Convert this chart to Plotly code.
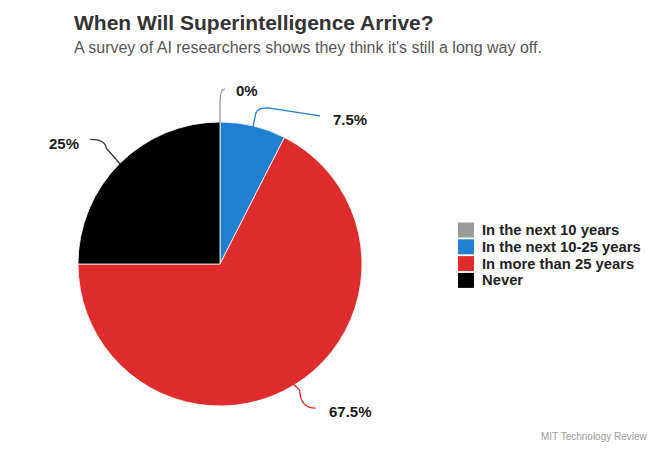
import math
import plotly.graph_objects as go

# ---- data ----
categories = ["In the next 10 years", "In the next 10-25 years", "In more than 25 years", "Never"]
values = [0, 7.5, 67.5, 25]
value_labels = ["0%", "7.5%", "67.5%", "25%"]
colors = ["#9a9a9a", "#1f7fd0", "#de2b2b", "#000000"]

W, H = 662, 463
CX, CY, R = 220, 264, 142  # pie geometry in pixels
FONT = "Liberation Sans, Arial, Helvetica, sans-serif"


def px(x):
    return x / W


def py(y):
    return 1 - y / H


fig = go.Figure(go.Pie(
    labels=categories,
    values=values,
    marker=dict(colors=colors, line=dict(color="white", width=0.8)),
    sort=False,
    direction="clockwise",
    rotation=0,
    textinfo="none",
    hoverinfo="label+percent",
    showlegend=False,
    domain=dict(x=[px(CX - R), px(CX + R)], y=[py(CY + R), py(CY - R)]),
))

# leader lines and labels computed from slice angles
total = sum(values)
label_style = {
    # offsets: (elbow dx, elbow dy, end dx, end dy, label dx, label dy) relative to edge point
    0: (0, -22, 5, -34, 27, -32),
    1: (3, -14, 67, -11, 97, -7),
    2: (6, 6, 22, 24, 57, 27),
    3: (-14, -16, -30, -25, -56, -21),
}
line_colors = ["#9a9a9a", "#1f7fd0", "#de2b2b", "#333333"]
shapes = []
annotations = []
cum = 0
for i, v in enumerate(values):
    mid = cum + v / 2
    cum += v
    theta = 2 * math.pi * mid / total
    ex = CX + (R - 1) * math.sin(theta)
    ey = CY - (R - 1) * math.cos(theta)
    edx, edy, tdx, tdy, ldx, ldy = label_style[i]
    x0, y0 = ex, ey
    x1, y1 = ex + edx, ey + edy
    x2, y2 = ex + tdx, ey + tdy
    if i == 1:
        path = (f"M {px(x0)},{py(y0)} L {px(x1)},{py(y1)} "
                f"Q {px(x1 + 2)},{py(y1 - 5)} {px(x1 + 12)},{py(y1 - 5)} "
                f"L {px(x2)},{py(y2)}")
    else:
        path = (f"M {px(x0)},{py(y0)} L {px(x1)},{py(y1)} "
                f"Q {px(x1 + (x2 - x1) * 0.05)},{py(y2)} {px(x2)},{py(y2)}")
    shapes.append(dict(type="path", xref="paper", yref="paper", path=path,
                       line=dict(color=line_colors[i], width=1.3)))
    annotations.append(dict(x=px(ex + ldx), y=py(ey + ldy), xref="paper", yref="paper",
                            text=f"<b>{value_labels[i]}</b>", showarrow=False,
                            font=dict(size=15, color="#1a1a1a", family=FONT),
                            xanchor="center", yanchor="middle"))

# legend (swatches + category names)
LX, LY0, LSTEP, SW = 458, 230, 16.8, 15
for i, cat in enumerate(categories):
    yc = LY0 + i * LSTEP
    shapes.append(dict(type="rect", xref="paper", yref="paper",
                       x0=px(LX), x1=px(LX + SW + 1), y0=py(yc + SW / 2), y1=py(yc - SW / 2),
                       fillcolor=colors[i], line=dict(width=0)))
    annotations.append(dict(x=px(LX + SW + 7), y=py(yc), xref="paper", yref="paper",
                            xanchor="left", yanchor="middle", text=f"<b>{cat}</b>", showarrow=False,
                            font=dict(size=14.8, color="#222222", family=FONT)))

annotations += [
    dict(x=px(72), y=py(22), xref="paper", yref="paper", xanchor="left", yanchor="middle",
         text="<b>When Will Superintelligence Arrive?</b>", showarrow=False,
         font=dict(size=21, color="#333333", family=FONT)),
    dict(x=px(72), y=py(48), xref="paper", yref="paper", xanchor="left", yanchor="middle",
         text="A survey of AI researchers shows they think it's still a long way off.", showarrow=False,
         font=dict(size=16, color="#555555", family=FONT)),
    dict(x=px(650), y=py(436), xref="paper", yref="paper", xanchor="right", yanchor="middle",
         text="MIT Technology Review", showarrow=False,
         font=dict(size=10, color="#9a9a9a", family=FONT)),
]

fig.update_layout(
    width=W, height=H,
    margin=dict(l=0, r=0, t=0, b=0),
    paper_bgcolor="white",
    plot_bgcolor="white",
    showlegend=False,
    shapes=shapes,
    annotations=annotations,
)

fig.write_html("out.html", config={"displayModeBar": False},
               post_script="document.body.style.margin='0';")
